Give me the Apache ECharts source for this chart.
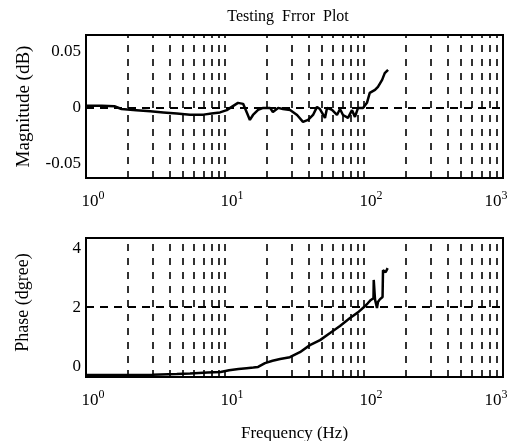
<!DOCTYPE html>
<html>
<head>
<meta charset="utf-8">
<script src="https://cdn.jsdelivr.net/npm/echarts@6/dist/echarts.min.js"></script>
<style>html,body{margin:0;padding:0;background:#fff}#c{width:513px;height:441px}</style>
</head>
<body>
<div id="c"></div>
<script>
// Magnitude error (dB) vs frequency (Hz)
var magFreq = [1, 1.3, 1.6, 1.8, 2.3, 2.9, 3.6, 4.5, 5.6, 7.0, 8.0, 9.2, 10.3, 10.9, 12.4, 13.5, 14.4, 15.1, 15.9, 17.3, 18.8, 21.1, 22.1, 24.1, 26.1, 29.4, 33.0, 36.4, 39.6, 43.0, 45.9, 48.2, 52.4, 54.2, 58.9, 63.9, 67.2, 70.6, 76.7, 82.0, 86.1, 90.6, 98.4, 105, 110, 120, 126, 135, 141, 149];
var magValues = [0.002, 0.002, 0.0015, -0.001, -0.002, -0.003, -0.004, -0.005, -0.006, -0.006, -0.005, -0.004, -0.002, 0.000, 0.0045, 0.0036, -0.0045, -0.0107, -0.0063, -0.0018, 0.000, 0.000, -0.0036, 0.000, -0.001, -0.0018, -0.0063, -0.0125, -0.0107, -0.0063, 0.0009, -0.001, -0.0089, 0.000, -0.0018, -0.0063, -0.001, -0.0063, -0.0089, -0.002, -0.008, 0.000, 0.000, 0.0045, 0.0134, 0.016, 0.0188, 0.025, 0.031, 0.034];
// Phase error (degree) vs frequency (Hz)
var phaseFreq = [1, 2, 3, 4.5, 5.6, 7.5, 9.3, 10.7, 12.5, 14.3, 16, 17.3, 19.4, 22, 24.9, 29.3, 34.6, 40.8, 48.3, 57, 67.2, 79.3, 90.5, 100, 106, 112, 117, 117.5, 120, 124, 126, 130, 136, 137, 143, 148];
var phaseValues = [-0.3, -0.3, -0.29, -0.27, -0.25, -0.22, -0.2, -0.14, -0.1, -0.07, -0.05, -0.03, 0.1, 0.18, 0.24, 0.3, 0.47, 0.71, 0.88, 1.12, 1.36, 1.63, 1.82, 2.0, 2.12, 2.24, 2.3, 2.92, 2.26, 1.97, 2.17, 2.26, 2.34, 3.25, 3.18, 3.32];
// Tick labels
var magTicks = [-0.05, 0, 0.05];
var phaseTicks = [0, 2, 4];
// dashed grid positions
var gridFreqs = [2,3,4,5,6,7,8,9,10,20,30,40,50,60,70,80,90,100,200,300,400,500,600,700,800,900];
var magGridY = [0];
var phaseGridY = [2];

var FONT = 'Liberation Serif';
var vDash = {color: '#000', type: [7, 7], width: 1.6};
var hDash = {color: '#000', type: [8, 6], width: 1.8};

function xAxisCfg(gi, name) {
  return {
    type: 'log', logBase: 10, gridIndex: gi, min: 1, max: 1000,
    axisLine: {show: true, onZero: false, lineStyle: {color: '#000', width: 2}},
    axisTick: {show: false},
    minorTick: {show: false},
    splitLine: {show: false},
    axisLabel: {
      color: '#000', margin: 12,
      formatter: function (v) {
        var e = Math.round(Math.log10(v));
        return e >= 3 ? '{b2|10}{s2|' + e + '}' : '{b|10}{s|' + e + '}';
      },
      rich: {
        b: {fontFamily: FONT, fontSize: 17, color: '#000', padding: [0, 0, 0, 14]},
        s: {fontFamily: FONT, fontSize: 12, color: '#000', padding: [0, 0, 11, 0]},
        b2: {fontFamily: FONT, fontSize: 17, color: '#000'},
        s2: {fontFamily: FONT, fontSize: 12, color: '#000', padding: [0, 14, 11, 0]}
      }
    },
    name: name, nameLocation: 'middle', nameGap: 48,
    nameTextStyle: {fontFamily: FONT, fontSize: 17, color: '#000'}
  };
}
function yAxisCfg(gi, mn, mx, ticks, name, nfs, ngap, npad) {
  return {
    type: 'value', gridIndex: gi, min: mn, max: mx,
    axisLine: {show: true, lineStyle: {color: '#000', width: 2}},
    axisTick: {show: false},
    splitLine: {show: false},
    axisLabel: {customValues: ticks, color: '#000', fontFamily: FONT, fontSize: 17, margin: 5,
      padding: [7, 0, 0, 0],
      formatter: function (v) { return String(v); }},
    name: name, nameLocation: 'middle', nameGap: ngap,
    nameTextStyle: {fontFamily: FONT, fontSize: nfs, color: '#000', padding: npad}
  };
}
function pairs(xs, ys) { return xs.map(function (x, i) { return [x, ys[i]]; }); }
function gridLines(ys) {
  var d = gridFreqs.map(function (f) { return {xAxis: f, lineStyle: vDash}; });
  ys.forEach(function (y) { d.push({yAxis: y, lineStyle: hDash}); });
  return {silent: true, symbol: 'none', label: {show: false}, data: d, animation: false};
}

var chart = echarts.init(document.getElementById('c'), null, {renderer: 'canvas'});
chart.setOption({
  backgroundColor: '#fff',
  animation: false,
  title: {text: 'Testing  Frror  Plot', left: 283, top: 4, textAlign: 'center',
    textStyle: {fontFamily: FONT, fontSize: 16, fontWeight: 'normal', color: '#000'}},
  grid: [
    {left: 86, top: 35, width: 417, height: 143, show: true, borderColor: '#000', borderWidth: 2, backgroundColor: '#fff', containLabel: false, outerBoundsMode: 'none'},
    {left: 86, top: 238, width: 417, height: 139, show: true, borderColor: '#000', borderWidth: 2, backgroundColor: '#fff', containLabel: false, outerBoundsMode: 'none'}
  ],
  xAxis: [xAxisCfg(0, ''), xAxisCfg(1, 'Frequency (Hz)')],
  yAxis: [
    yAxisCfg(0, -0.0625, 0.065, magTicks, 'Magnitude (dB)', 19, 52, 0),
    yAxisCfg(1, -0.37, 4.34, phaseTicks, 'Phase (dgree)', 18, 54, [0, 0, 0, 10])
  ],
  series: [
    {type: 'line', xAxisIndex: 0, yAxisIndex: 0, data: pairs(magFreq, magValues), showSymbol: false,
      lineStyle: {color: '#000', width: 2.5}, markLine: gridLines(magGridY), z: 3},
    {type: 'line', xAxisIndex: 1, yAxisIndex: 1, data: pairs(phaseFreq, phaseValues), showSymbol: false,
      lineStyle: {color: '#000', width: 2.5}, markLine: gridLines(phaseGridY), z: 3}
  ]
});
</script>
</body>
</html>
